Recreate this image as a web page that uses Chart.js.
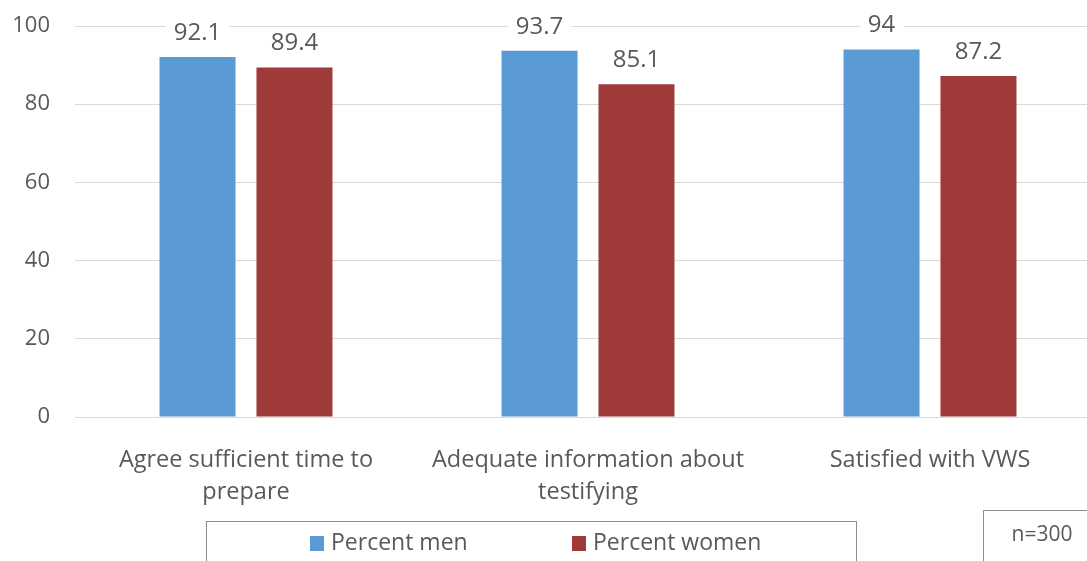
<!DOCTYPE html>
<html>
<head>
<meta charset="utf-8">
<script src="https://cdn.jsdelivr.net/npm/chart.js@4"></script>
<style>
  html, body { margin: 0; padding: 0; background: #fff; overflow: hidden; }
  #wrap { width: 1087px; height: 561px; overflow: hidden; }
  #box { width: 1102px; height: 561px; }
</style>
</head>
<body>
<div id="wrap"><div id="box"><canvas id="chart"></canvas></div></div>
<script>
// data
const categories = [
  ["Agree sufficient time to", "prepare"],
  ["Adequate information about", "testifying"],
  ["Satisfied with VWS"]
];
const percentMen = [92.1, 93.7, 94];
const percentWomen = [89.4, 85.1, 87.2];
const yTicks = [0, 20, 40, 60, 80, 100];
const sampleNote = "n=300";

const textColor = "#595959";
const fontFamily = "'Open Sans', 'Noto Sans', sans-serif";

// value labels above the bars, with a white patch so the gridline breaks
const valueLabels = {
  id: "valueLabels",
  afterDatasetsDraw(chart) {
    const ctx = chart.ctx;
    ctx.save();
    ctx.font = "24px " + fontFamily;
    ctx.textAlign = "center";
    ctx.textBaseline = "alphabetic";
    chart.data.datasets.forEach((ds, i) => {
      chart.getDatasetMeta(i).data.forEach((bar, j) => {
        const txt = String(ds.data[j]);
        const w = ctx.measureText(txt).width;
        const y = bar.y - 17;
        ctx.fillStyle = "#fff";
        ctx.fillRect(bar.x - w / 2 - 8, y - 20, w + 16, 26);
        ctx.fillStyle = textColor;
        ctx.fillText(txt, bar.x, y);
      });
    });
    ctx.restore();
  }
};

// boxed legend and the n= note at the bottom
const boxedLegend = {
  id: "boxedLegend",
  afterDraw(chart) {
    const ctx = chart.ctx;
    ctx.save();
    ctx.strokeStyle = "#8c8c8c";
    ctx.lineWidth = 1;
    ctx.strokeRect(206.5, 521.5, 650, 60);
    ctx.font = "23px " + fontFamily;
    ctx.textBaseline = "middle";
    ctx.textAlign = "left";
    const starts = [310, 572];
    chart.data.datasets.forEach((ds, i) => {
      const x = starts[i];
      ctx.fillStyle = ds.backgroundColor;
      ctx.fillRect(x, 536, 14, 15);
      ctx.fillStyle = textColor;
      ctx.fillText(ds.label, x + 21, 543);
    });
    ctx.strokeRect(983.5, 510.5, 200, 60);
    ctx.font = "21px " + fontFamily;
    ctx.textAlign = "center";
    ctx.fillText(sampleNote, 1042, 535);
    ctx.restore();
  }
};

new Chart(document.getElementById("chart"), {
  type: "bar",
  data: {
    labels: categories,
    datasets: [
      {
        label: "Percent men",
        data: percentMen,
        backgroundColor: "#5B9BD5",
        categoryPercentage: 0.567,
        barPercentage: 0.784
      },
      {
        label: "Percent women",
        data: percentWomen,
        backgroundColor: "#9E3A38",
        categoryPercentage: 0.567,
        barPercentage: 0.784
      }
    ]
  },
  options: {
    responsive: true,
    maintainAspectRatio: false,
    animation: false,
    layout: { padding: { top: 26, right: 1, bottom: 0, left: 0 } },
    plugins: {
      legend: { display: false },
      tooltip: { enabled: false }
    },
    scales: {
      x: {
        grid: { display: false },
        border: { display: false },
        ticks: {
          color: textColor,
          font: { family: fontFamily, size: 23.5, lineHeight: 1.36 },
          padding: 19,
          maxRotation: 0,
          autoSkip: false
        },
        afterFit(scale) { scale.height = 144; }
      },
      y: {
        min: 0,
        max: 100,
        afterBuildTicks(scale) { scale.ticks = yTicks.map(v => ({ value: v })); },
        grid: { color: "#d9d9d9", lineWidth: 1, drawTicks: false },
        border: { display: false },
        ticks: {
          color: textColor,
          font: { family: fontFamily, size: 22 },
          padding: 25
        },
        afterFit(scale) {
          scale.width = 75;
          scale.paddingTop = 0;
          scale.paddingBottom = 0;
        }
      }
    }
  },
  plugins: [valueLabels, boxedLegend]
});
</script>
</body>
</html>
